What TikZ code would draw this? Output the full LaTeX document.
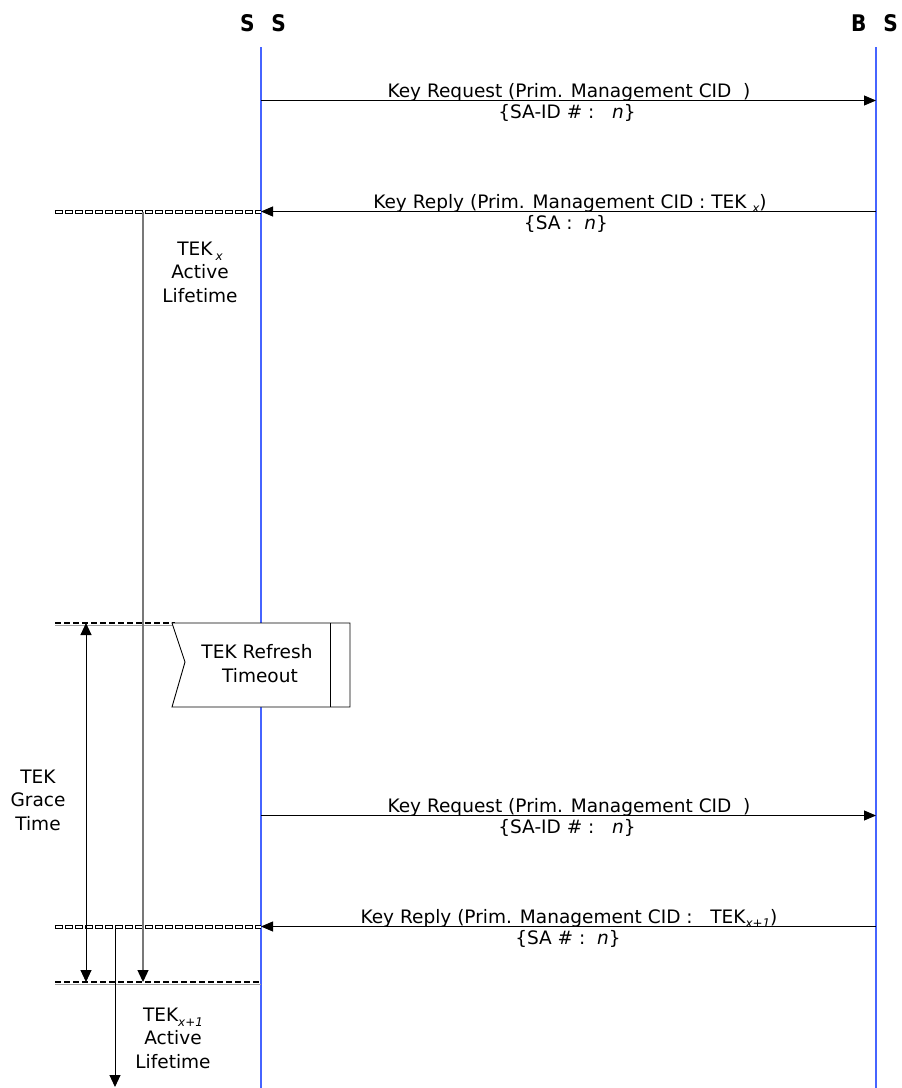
\documentclass[tikz,border=0pt]{standalone}
\usepackage{fontspec}
\setmainfont{DejaVu Sans}
\usetikzlibrary{arrows.meta}
\definecolor{lifeblue}{RGB}{70,100,255}
\definecolor{lgray}{RGB}{120,120,120}
\begin{document}
\begin{tikzpicture}[x=1bp,y=-1bp,
  lifeline/.style={draw=lifeblue,line width=1.2bp},
  msg/.style={draw=black,line width=0.9bp,-{Triangle[length=12bp,width=10bp]}},
  lbl/.style={font=\fontsize{18.6}{22}\selectfont,anchor=base,inner sep=0pt},
  side/.style={font=\fontsize{18.6}{23.5}\selectfont,align=center,anchor=base,inner sep=0pt},
  head/.style={font=\fontsize{23}{23}\selectfont\bfseries,anchor=base,inner sep=0pt},
  vline/.style={draw=lgray,line width=1.3bp,-{Triangle[length=12bp,width=11bp,color=black]}},
  varrow/.style={draw=black,line width=1bp},
  boxline/.style={draw=black,line width=0.9bp,fill=white}
]
\newcommand{\subx}[1]{\raisebox{-5pt}{\fontsize{12}{12}\selectfont\itshape #1}}
\useasboundingbox (0,0) rectangle (902,1088);
\fill[white] (0,0) rectangle (902,1088);

% headers
\node[head] (hss) at (263,31) {\scalebox{0.88}[1]{S\hspace{19pt}S}};
\node[head] (hbs) at (874.5,31) {\scalebox{0.88}[1]{B\hspace{19pt}S}};

% lifelines
\coordinate (ssTop) at (261,47);
\coordinate (ssBot) at (261,1088);
\coordinate (bsTop) at (876,47);
\coordinate (bsBot) at (876,1088);
\draw[lifeline] (ssTop) -- (ssBot);
\draw[lifeline] (bsTop) -- (bsBot);

% message coordinates
\coordinate (m1s) at (261,100.5);  \coordinate (m1e) at (876,100.5);
\coordinate (m2s) at (876,211.5);  \coordinate (m2e) at (261,211.5);
\coordinate (m3s) at (261,815.5);  \coordinate (m3e) at (876,815.5);
\coordinate (m4s) at (876,926.5);  \coordinate (m4e) at (261,926.5);

% boxed-dash lines (open squares)
\coordinate (d1a) at (55,211.5);
\coordinate (d2a) at (55,926.5);
\foreach \a/\b in {d1a/m2e,d2a/m4e}{
  \draw[black,line width=4bp,dash pattern=on 8bp off 2bp] (\a) -- (\b);
  \draw[white,line width=2bp,dash pattern=on 6bp off 4bp,dash phase=-1bp] (\a) -- (\b);
}

% triangle-dash lines
\coordinate (g1a) at (55,623); \coordinate (g1b) at (175,623);
\coordinate (g2a) at (55,982); \coordinate (g2b) at (261,982);
\foreach \a/\b in {g1a/g1b,g2a/g2b}{
  \draw[lgray!70,line width=1.2bp] ([yshift=-2.5bp]\a) -- ([yshift=-2.5bp]\b);
  \draw[black,line width=2.2bp,dash pattern=on 6bp off 3bp] (\a) -- (\b);
}

% messages
\draw[msg] (m1s) -- (m1e);
\draw[msg] (m2s) -- (m2e);
\draw[msg] (m3s) -- (m3e);
\draw[msg] (m4s) -- (m4e);

\node[lbl] (l1a) at (569,97) {Key Request (Prim. Management CID~~)};
\node[lbl] (l1b) at (567,118) {\{SA-ID \# :~~~\textit{n}\}};
\node[lbl] (l2a) at (570,208) {Key Reply (Prim. Management CID : TEK~\subx{x})};
\node[lbl] (l2b) at (566,229) {\{SA :~~\textit{n}\}};
\node[lbl] (l3a) at (569,812) {Key Request (Prim. Management CID~~)};
\node[lbl] (l3b) at (567,833) {\{SA-ID \# :~~~\textit{n}\}};
\node[lbl] (l4a) at (569,923) {Key Reply (Prim. Management CID :~~~TEK\subx{x+1})};
\node[lbl] (l4b) at (568,944) {\{SA \# :~~\textit{n}\}};

% vertical lifetime lines
\coordinate (v1s) at (143,211.5); \coordinate (v1e) at (143,982);
\draw[vline] (v1s) -- (v1e);
\coordinate (v2s) at (115,926.5); \coordinate (v2e) at (115,1087);
\draw[varrow,-{Triangle[length=12bp,width=11bp]}] (v2s) -- (v2e);
\coordinate (v3s) at (86,623); \coordinate (v3e) at (86,982);
\draw[varrow,{Triangle[length=12bp,width=11bp]}-{Triangle[length=12bp,width=11bp]}] (v3s) -- (v3e);

% side labels (base anchor = last line baseline)
\node[side] (tekx) at (200,302) {TEK\,\subx{x}\\Active\\Lifetime};
\node[side] (grace) at (38,830) {TEK\\Grace\\Time};
\node[side] (tekx1) at (173,1068) {TEK\subx{x+1}\\Active\\Lifetime};

% refresh timeout box
\coordinate (bA) at (172,623);
\coordinate (bB) at (350,623);
\coordinate (bC) at (350,707);
\coordinate (bD) at (172,707);
\coordinate (bN) at (185,662);
\draw[boxline] (bA) -- (bB) -- (bC) -- (bD) -- (bN) -- cycle;
\draw[black,line width=0.9bp] (330,623) -- (330,707);
\node[side] (refresh) at (257,682) {TEK Refresh\\~Timeout};
\end{tikzpicture}
\end{document}
